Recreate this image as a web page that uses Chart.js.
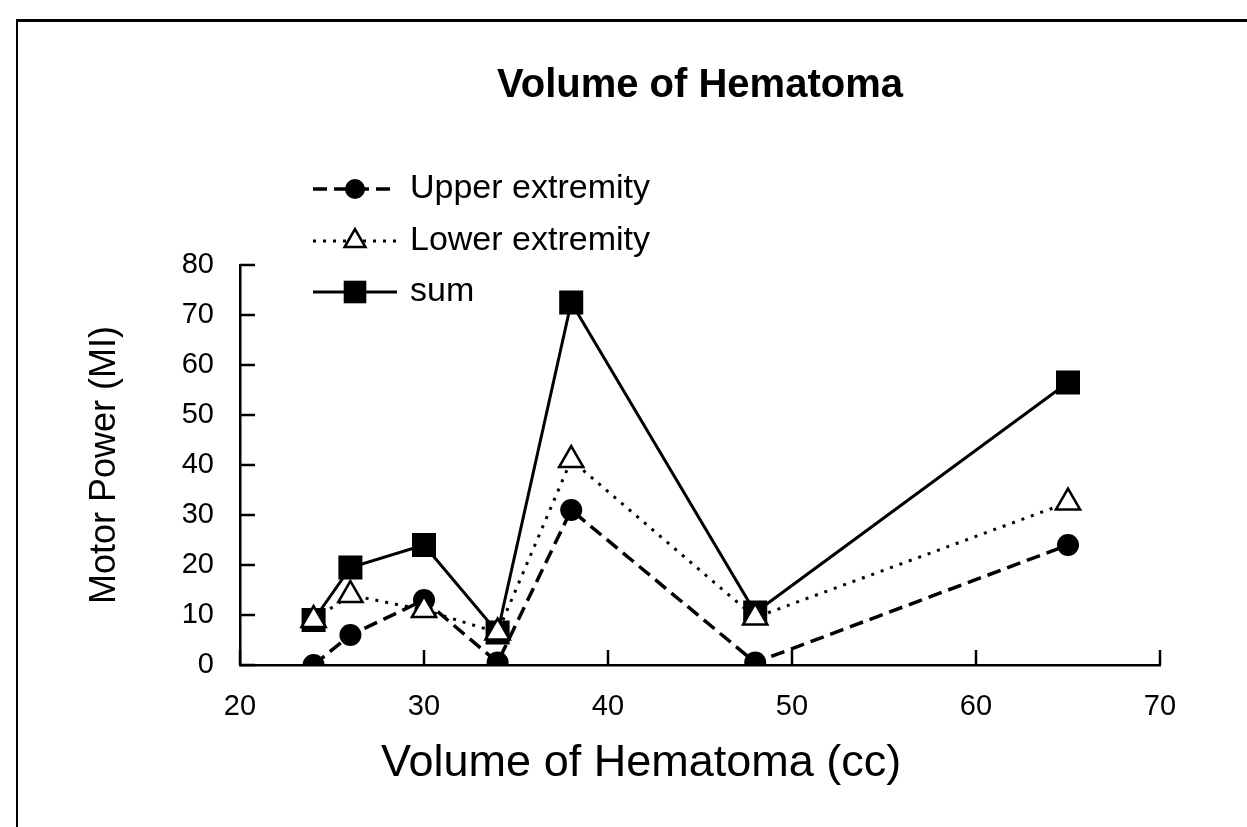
<!DOCTYPE html>
<html>
<head>
<meta charset="utf-8">
<script src="https://cdn.jsdelivr.net/npm/chart.js@4.4.0/dist/chart.umd.min.js"></script>
<style>
  html, body { margin: 0; padding: 0; background: #fff; }
  #wrap { position: relative; width: 1247px; height: 827px; overflow: hidden; }
  #frame { position: absolute; left: 16px; top: 19px; right: -10px; bottom: -10px;
           border-left: 2px solid #000; border-top: 3px solid #000; pointer-events: none; }
</style>
</head>
<body>
<div id="wrap">
  <canvas id="chart" width="1247" height="827"></canvas>
  <div id="frame"></div>
</div>
<script>
  // values
  const volumes = [24, 26, 30, 34, 38, 48, 65];
  const upperExtremity = [0, 6, 13, 0.5, 31, 0.5, 24];
  const lowerExtremity = [9, 14, 11, 6.5, 41, 9.5, 32.5];
  const sumValues = [9, 19.5, 24, 6.5, 72.5, 10.5, 56.5];

  const xRange = [20, 70];
  const yRange = [0, 80];
  const tickStep = 10;

  const chartTitle = 'Volume of Hematoma';
  const xTitle = 'Volume of Hematoma (cc)';
  const yTitle = 'Motor Power (MI)';
  const FONT = '"Liberation Sans", Arial, sans-serif';

  const toPoints = vals => vals.map((v, i) => ({ x: volumes[i], y: v }));

  const datasets = [
    { label: 'Upper extremity', data: toPoints(upperExtremity), order: 1,
      borderColor: '#000', backgroundColor: '#000', borderWidth: 3.5, borderDash: [14, 7],
      pointStyle: 'circle', pointRadius: 11, pointBackgroundColor: '#000', pointBorderWidth: 0,
      legendRadius: 10 },
    { label: 'Lower extremity', data: toPoints(lowerExtremity), order: 0,
      borderColor: '#000', backgroundColor: '#fff', borderWidth: 3, borderDash: [3, 7],
      pointStyle: 'triangle', pointRadius: 14, pointBackgroundColor: '#fff', pointBorderColor: '#000', pointBorderWidth: 2.5,
      legendRadius: 12 },
    { label: 'sum', data: toPoints(sumValues), order: 2,
      borderColor: '#000', backgroundColor: '#000', borderWidth: 3, borderDash: [],
      pointStyle: 'rect', pointRadius: 17, pointBackgroundColor: '#000', pointBorderWidth: 0,
      legendRadius: 16 }
  ];

  // tick marks pointing into the plot
  const inwardTicks = {
    id: 'inwardTicks',
    afterDraw(chart) {
      const { ctx, chartArea: a, scales: { x, y } } = chart;
      ctx.save();
      ctx.strokeStyle = '#000';
      ctx.lineWidth = 2.5;
      ctx.beginPath();
      y.ticks.forEach(t => {
        const py = y.getPixelForValue(t.value);
        ctx.moveTo(a.left, py); ctx.lineTo(a.left + 15, py);
      });
      x.ticks.forEach(t => {
        const px = x.getPixelForValue(t.value);
        ctx.moveTo(px, a.bottom); ctx.lineTo(px, a.bottom - 15);
      });
      ctx.stroke();
      ctx.restore();
    }
  };

  // legend inside the plot, line sample + marker
  const legendOrder = [0, 1, 2];
  const innerLegend = {
    id: 'innerLegend',
    afterDraw(chart) {
      const { ctx } = chart;
      const x0 = 313, x1 = 397, rowY = [189, 241, 292];
      ctx.save();
      legendOrder.forEach((di, row) => {
        const ds = chart.data.datasets[di];
        const yy = rowY[row];
        ctx.strokeStyle = '#000';
        ctx.lineWidth = ds.borderWidth;
        ctx.setLineDash(ds.borderDash);
        ctx.beginPath(); ctx.moveTo(x0, yy); ctx.lineTo(x1, yy); ctx.stroke();
        ctx.setLineDash([]);
        ctx.fillStyle = ds.pointBackgroundColor;
        ctx.strokeStyle = '#000';
        ctx.lineWidth = ds.pointBorderWidth || 0.01;
        Chart.helpers.drawPoint(ctx, { pointStyle: ds.pointStyle, radius: ds.legendRadius, rotation: 0, borderWidth: ds.pointBorderWidth }, (x0 + x1) / 2, yy);
        ctx.fillStyle = '#000';
        ctx.font = '34px ' + FONT;
        ctx.textBaseline = 'middle';
        ctx.textAlign = 'left';
        ctx.fillText(ds.label, 410, yy);
      });
      ctx.restore();
    }
  };

  const xAxisTitle = {
    id: 'xAxisTitle',
    afterDraw(chart) {
      const { ctx, chartArea: a } = chart;
      ctx.save();
      ctx.fillStyle = '#000';
      ctx.font = '45px ' + FONT;
      ctx.textAlign = 'center';
      ctx.textBaseline = 'middle';
      ctx.fillText(xTitle, a.left + (a.right - a.left) * 0.436, 764);
      ctx.restore();
    }
  };

  new Chart(document.getElementById('chart'), {
    type: 'line',
    data: { datasets },
    options: {
      responsive: false,
      animation: false,
      devicePixelRatio: 1,
      layout: { padding: { left: 0, right: 87, top: 0, bottom: 0 } },
      elements: { line: { tension: 0, fill: false } },
      scales: {
        x: {
          type: 'linear', min: xRange[0], max: xRange[1],
          afterFit: s => { s.height = 162; },
          ticks: { stepSize: tickStep, color: '#000', padding: 25, font: { family: FONT, size: 29 } },
          grid: { drawOnChartArea: false, drawTicks: false },
          border: { color: '#000', width: 2.5 },
          title: { display: false }
        },
        y: {
          type: 'linear', min: yRange[0], max: yRange[1],
          afterFit: s => { s.width = 240; },
          ticks: { stepSize: tickStep, color: '#000', padding: 26, font: { family: FONT, size: 29 } },
          grid: { drawOnChartArea: false, drawTicks: false },
          border: { color: '#000', width: 2.5 },
          title: { display: true, text: yTitle, color: '#000', font: { family: FONT, size: 36 }, padding: { top: 83, bottom: 0 } }
        }
      },
      plugins: {
        legend: { display: false },
        tooltip: { enabled: false },
        title: {
          display: true, text: chartTitle, color: '#000', fullSize: false,
          font: { family: FONT, size: 40, weight: 'bold' },
          padding: { top: 62, bottom: 155 }
        }
      }
    },
    plugins: [inwardTicks, innerLegend, xAxisTitle]
  });
</script>
</body>
</html>
